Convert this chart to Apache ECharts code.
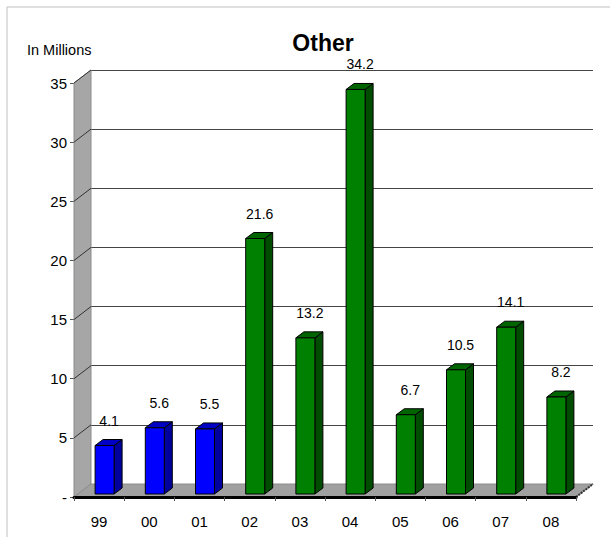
<!DOCTYPE html>
<html>
<head>
<meta charset="utf-8">
<script src="https://cdn.jsdelivr.net/npm/echarts@6/dist/echarts.min.js"></script>
<style>html,body{margin:0;padding:0;background:#fff}#c{width:610px;height:537px}</style>
</head>
<body>
<div id="c"></div>
<script>
const categories = ['99','00','01','02','03','04','05','06','07','08'];
const blueValues = [4.1, 5.6, 5.5];              // 99-01
const greenValues = [21.6, 13.2, 34.2, 6.7, 10.5, 14.1, 8.2]; // 02-08
const yTicks = [0, 5, 10, 15, 20, 25, 30, 35];

const DX = 17, DY = -13; // depth of the back wall
const blueData = blueValues.map((v, i) => [i, v]);
const greenData = greenValues.map((v, i) => [i + blueValues.length, v]);

function barItem(colors) {
  return function (params, api) {
    const i = api.value(0), v = api.value(1);
    const top = api.coord([i, v]);
    const base = api.coord([i, 0]);
    const c = top[0];
    const x0 = c - 4, x1 = c + 15, bx = 8, by = -6;
    const yt = top[1] - 3, yb = base[1] - 3;
    const ls = { stroke: '#000', lineWidth: 1 };
    return {
      type: 'group',
      children: [
        { type: 'polygon', shape: { points: [[x1, yt], [x1 + bx, yt + by], [x1 + bx, yb + by], [x1, yb]] }, style: Object.assign({ fill: colors[1] }, ls) },
        { type: 'polygon', shape: { points: [[x0, yt], [x0 + bx, yt + by], [x1 + bx, yt + by], [x1, yt]] }, style: Object.assign({ fill: colors[2] }, ls) },
        { type: 'rect', shape: { x: x0, y: yt, width: x1 - x0, height: yb - yt }, style: Object.assign({ fill: colors[0] }, ls) },
        { type: 'text', style: { text: String(v), x: c + 10, y: yt - 25, align: 'center', verticalAlign: 'middle', fontSize: 14, fontFamily: 'Liberation Sans, Arial', fill: '#000' } }
      ]
    };
  };
}

function frameItem(params, api) {
  const cs = params.coordSys;
  const L = cs.x, R = cs.x + cs.width, B = cs.y + cs.height, T = cs.y;
  const children = [];
  children.push({ type: 'polygon', shape: { points: [[L, B], [L, T], [L + DX, T + DY], [L + DX, B + DY]] }, style: { fill: '#a6a6a6', stroke: '#8c8c8c', lineWidth: 1 } });
  yTicks.forEach(t => {
    const y = api.coord([0, t])[1];
    if (t > 0) children.push({ type: 'line', shape: { x1: L, y1: y, x2: L + DX, y2: y + DY }, style: { stroke: '#333', lineWidth: 1 } });
  });
  children.push({ type: 'polygon', shape: { points: [[L, B], [R, B], [R + DX, B + DY], [L + DX, B + DY]] }, style: { fill: '#a0a0a0', stroke: '#8c8c8c', lineWidth: 1 } });
  children.push({ type: 'line', shape: { x1: R, y1: B, x2: R + DX, y2: B + DY }, style: { stroke: '#333', lineWidth: 2, lineDash: [2, 1] } });
  return { type: 'group', children };
}

const chart = echarts.init(document.getElementById('c'), null, { renderer: 'svg' });
chart.setOption({
  animation: false,
  backgroundColor: '#fff',
  title: {
    text: 'Other', left: 318, top: 26, textAlign: 'center',
    textStyle: { fontSize: 23, fontWeight: 'bold', fontFamily: 'Liberation Sans, Arial', color: '#000' }
  },
  graphic: [
    { type: 'rect', shape: { x: 7, y: 7, width: 700, height: 700 }, style: { fill: 'none', stroke: '#c0c0c0', lineWidth: 1 }, z: 0 },
    { type: 'text', left: 27, top: 42, style: { text: 'In Millions', fontSize: 14.5, fontFamily: 'Liberation Sans, Arial', fill: '#000' } }
  ],
  grid: [
    { left: 74, top: 83, width: 502, height: 414 },
    { left: 74 + DX, top: 83 + DY, width: 502, height: 414 }
  ],
  xAxis: [
    {
      type: 'category', data: categories, gridIndex: 0,
      axisLine: { show: true, lineStyle: { color: '#000', width: 3 } },
      axisTick: { show: true, length: 4, lineStyle: { color: '#555' } },
      axisLabel: { fontSize: 15, margin: 17, color: '#000', fontFamily: 'Liberation Sans, Arial' },
      z: 5
    },
    { type: 'category', data: categories, gridIndex: 1, show: false }
  ],
  yAxis: [
    {
      type: 'value', min: 0, max: 35, interval: 5, gridIndex: 0,
      axisLine: { show: false },
      axisTick: { show: true, length: 4, lineStyle: { color: '#555' } },
      axisLabel: { fontSize: 15, margin: 7, color: '#000', fontFamily: 'Liberation Sans, Arial', formatter: v => v === 0 ? '-' : String(v) },
      splitLine: { show: false }
    },
    {
      type: 'value', min: 0, max: 35, interval: 5, gridIndex: 1,
      axisLine: { show: false }, axisTick: { show: false }, axisLabel: { show: false },
      splitLine: { show: true, lineStyle: { color: '#444', width: 1 } }
    }
  ],
  series: [
    { type: 'custom', xAxisIndex: 0, yAxisIndex: 0, data: [[0, 0]], renderItem: frameItem, z: 1, silent: true },
    { type: 'custom', name: 'blue', xAxisIndex: 0, yAxisIndex: 0, data: blueData, renderItem: barItem(['#0000ff', '#00009c', '#0000c4']), z: 3 },
    { type: 'custom', name: 'green', xAxisIndex: 0, yAxisIndex: 0, data: greenData, renderItem: barItem(['#008000', '#004c00', '#006400']), z: 3 }
  ]
});
</script>
</body>
</html>
